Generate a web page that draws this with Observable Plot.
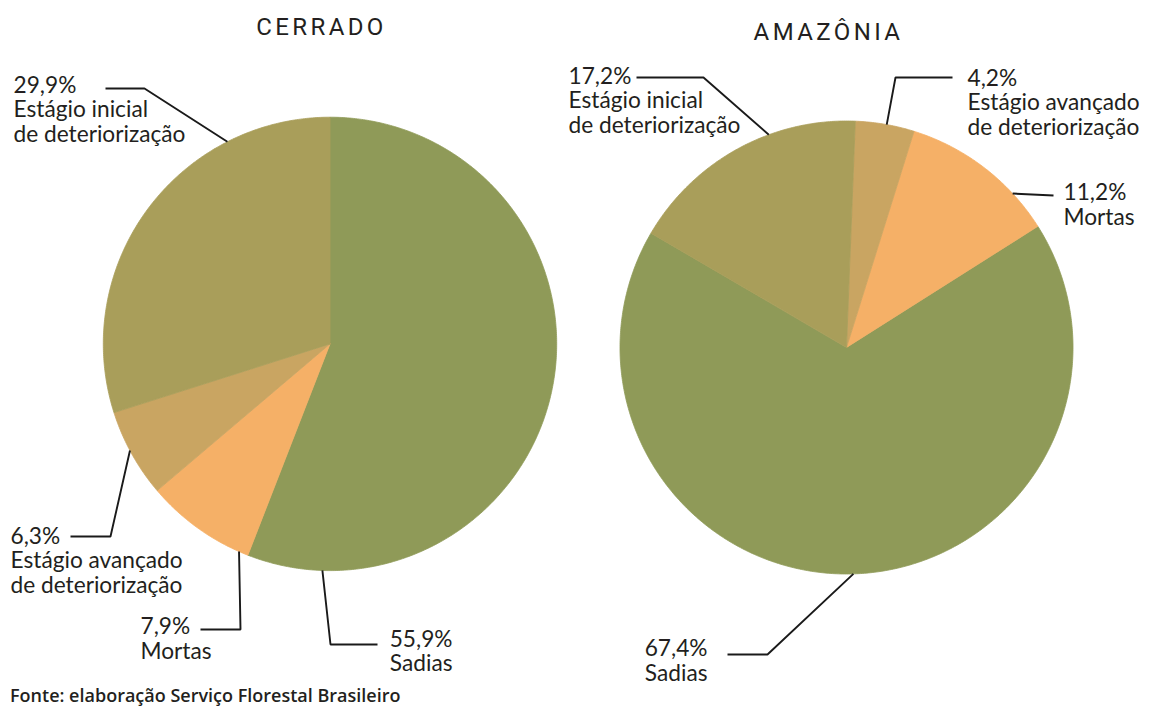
<!DOCTYPE html>
<html>
<head>
<meta charset="utf-8">
<script src="https://cdn.jsdelivr.net/npm/d3@7"></script>
<script src="https://cdn.jsdelivr.net/npm/@observablehq/plot@0.6"></script>
<style>
  body { margin: 0; background: #fff; }
  #chart svg { display: block; overflow: visible; }
  #caption { font-family: "Open Sans", sans-serif; font-weight: 600; font-size: 18px; line-height: 22px;
             color: #231f20; margin-left: 10px; white-space: nowrap; }
</style>
</head>
<body>
<div id="chart"></div>
<div id="caption">Fonte: elaboração Serviço Florestal Brasileiro</div>
<script>
// ---------- DATA ----------
const categories = ["Sadias", "Mortas", "Estágio avançado de deteriorização", "Estágio inicial de deteriorização"];
const categoryLabels = ["Sadias", "Mortas", "Estágio avançado\nde deteriorização", "Estágio inicial\nde deteriorização"];
const pieNames = ["CERRADO", "AMAZÔNIA"];
const cerradoValues = [55.9, 7.9, 6.3, 29.9];
const amazoniaValues = [67.4, 11.2, 4.2, 17.2];
const colors = ["#8f9a58", "#f5b067", "#c9a562", "#a99e5a"];

// ---------- LAYOUT ----------
const W = 1151, H = 684;
const pieLayout = {
  "CERRADO":  {cx: 329.5, cy: 343.4, r: 226.7, start: 0,     dir: 1,  title: [321, 27]},
  "AMAZÔNIA": {cx: 846,   cy: 347,   r: 226.5, start: 300.3, dir: -1, title: [828, 32]}
};
// leader: f = position of the anchor along the slice (in drawing order), then elbow/end points and label position
const labelLayout = {
  "CERRADO": [
    {f: 0.904, pts: [[330, 644], [377, 644]], text: [452, 650.5], anchor: "end"},
    {f: 0.085, pts: [[240, 629], [200, 629]], text: [140, 638],   anchor: "start"},
    {f: 0.54,  pts: [[110, 536], [70, 536]],  text: [10, 560],    anchor: "start"},
    {f: 0.75,  pts: [[144, 88],  [105, 88]],  text: [13, 109],    anchor: "start"}
  ],
  "AMAZÔNIA": [
    {f: 0.503, pts: [[767, 654], [727, 654]], text: [707, 660],  anchor: "end"},
    {f: 0.26,  pts: [[1053, 195]],            text: [1063, 204], anchor: "start"},
    {f: 0.47,  pts: [[895, 77],  [952, 77]],  text: [967, 102],  anchor: "start"},
    {f: 0.36,  pts: [[703, 77],  [636, 77]],  text: [568, 100],  anchor: "start"}
  ]
};

const valuesByPie = {"CERRADO": cerradoValues, "AMAZÔNIA": amazoniaValues};
const fmt = v => v.toFixed(1).replace(".", ",") + "%";
const rad = a => a * Math.PI / 180;

// slices from values
const slices = [];
for (const name of pieNames) {
  const L = pieLayout[name], vals = valuesByPie[name], total = d3.sum(vals);
  let acc = 0;
  vals.forEach((v, i) => {
    const a0 = L.start + L.dir * acc / total * 360;
    acc += v;
    const a1 = L.start + L.dir * acc / total * 360;
    slices.push({pie: name, category: categories[i], index: i, value: v, a0, a1});
  });
}

// polygon points for slices
const slicePoints = [];
for (const s of slices) {
  const L = pieLayout[s.pie];
  const key = s.pie + "|" + s.category;
  const n = Math.max(2, Math.ceil(Math.abs(s.a1 - s.a0) / 0.5));
  slicePoints.push({key, category: s.category, x: L.cx, y: L.cy});
  for (let k = 0; k <= n; k++) {
    const a = s.a0 + (s.a1 - s.a0) * k / n;
    slicePoints.push({key, category: s.category, x: L.cx + L.r * Math.sin(rad(a)), y: L.cy - L.r * Math.cos(rad(a))});
  }
  slicePoints.push({key, category: s.category, x: L.cx, y: L.cy});
}

// leader lines and labels
const leaderPoints = [];
const labels = [];
for (const s of slices) {
  const L = pieLayout[s.pie];
  const lay = labelLayout[s.pie][s.index];
  const a = s.a0 + (s.a1 - s.a0) * lay.f;
  const key = s.pie + "|" + s.category;
  leaderPoints.push({key, x: L.cx + L.r * Math.sin(rad(a)), y: L.cy - L.r * Math.cos(rad(a))});
  for (const p of lay.pts) leaderPoints.push({key, x: p[0], y: p[1]});
  labels.push({x: lay.text[0], y: lay.text[1], anchor: lay.anchor,
               text: fmt(s.value) + "\n" + categoryLabels[s.index]});
}
const titles = pieNames.map(n => ({text: n, x: pieLayout[n].title[0], y: pieLayout[n].title[1]}));

const textStyle = {fontSize: 22.7, lineHeight: 1.09, lineAnchor: "middle", fill: "#231f20"};

const chart = Plot.plot({
  width: W, height: H,
  margin: 0,
  style: {fontFamily: "Lato, sans-serif", background: "#fff"},
  x: {type: "linear", domain: [0, W], range: [0, W], axis: null},
  y: {type: "linear", domain: [0, H], range: [0, H], axis: null},
  color: {domain: categories, range: colors},
  marks: [
    Plot.line(slicePoints, {x: "x", y: "y", z: "key", fill: "category", stroke: "category", strokeWidth: 0.8, curve: "linear"}),
    Plot.line(leaderPoints, {x: "x", y: "y", z: "key", stroke: "#1a1a1a", strokeWidth: 1.9, strokeLinejoin: "miter", strokeLinecap: "butt"}),
    Plot.text(labels.filter(d => d.anchor === "start"), {x: "x", y: "y", text: "text", textAnchor: "start", ...textStyle}),
    Plot.text(labels.filter(d => d.anchor === "end"), {x: "x", y: "y", text: "text", textAnchor: "end", ...textStyle}),
    Plot.text(titles, {x: "x", y: "y", text: "text", fontSize: 24, fill: "#231f20", fontFamily: "Roboto"})
  ]
});
d3.select(chart).selectAll("text")
  .filter(function() { return pieNames.includes(this.textContent); })
  .attr("letter-spacing", "3.4px")
  .style("letter-spacing", "3.4px");
document.getElementById("chart").appendChild(chart);
</script>
</body>
</html>
